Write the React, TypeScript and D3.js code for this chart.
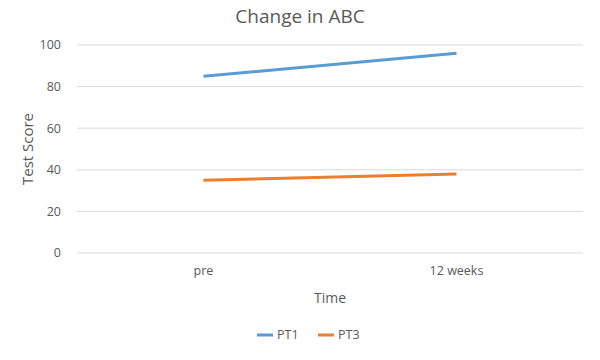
import React from "react";
import * as d3 from "d3";

const categories = ["pre", "12 weeks"];
const pt1 = [85, 96];
const pt3 = [35, 38];
const yTicks = [0, 20, 40, 60, 80, 100];
const seriesNames = ["PT1", "PT3"];
const colors = ["#5B9BD5", "#ED7D31"];

export default function App() {
  const W = 600, H = 360;
  const left = 77, right = 583, top = 45, bottom = 253;
  const x = d3.scaleBand().domain(categories).range([left, right]);
  const y = d3.scaleLinear().domain([0, 100]).range([bottom, top]);
  const line = d3.line<number>()
    .x((_, i) => (x(categories[i]) as number) + x.bandwidth() / 2)
    .y((d) => y(d));
  const series = [pt1, pt3];
  const font = "'Open Sans', 'Noto Sans', sans-serif";
  const txt = "#595959";
  return (
    <svg width={W} height={H} style={{ position: "absolute", left: 0, top: 0, background: "#fff" }} fontFamily={font}>
      <rect x={0} y={0} width={W} height={H} fill="#fff" />
      <text x={300} y={23} textAnchor="middle" fontSize={19} fill={txt}>Change in ABC</text>
      {yTicks.map((t) => (
        <g key={t}>
          <line x1={left} x2={right} y1={y(t)} y2={y(t)} stroke="#d9d9d9" strokeWidth={1} />
          <text x={61} y={y(t)} dy="0.35em" textAnchor="end" fontSize={12.5} fill={txt}>{t}</text>
        </g>
      ))}
      {categories.map((c) => (
        <text key={c} x={(x(c) as number) + x.bandwidth() / 2} y={275} textAnchor="middle" fontSize={12.5} fill={txt}>{c}</text>
      ))}
      <text transform={`translate(33,${(top + bottom) / 2}) rotate(-90)`} textAnchor="middle" fontSize={15} fill={txt}>Test Score</text>
      <text x={330} y={303} textAnchor="middle" fontSize={14} fill={txt}>Time</text>
      {series.map((s, i) => (
        <path key={i} d={line(s) || ""} fill="none" stroke={colors[i]} strokeWidth={3} />
      ))}
      {seriesNames.map((n, i) => (
        <g key={n} transform={`translate(${257 + i * 61},335)`}>
          <line x1={0} x2={16} y1={0} y2={0} stroke={colors[i]} strokeWidth={3} />
          <text x={20} y={0} dy="0.35em" fontSize={12.5} fill={txt}>{n}</text>
        </g>
      ))}
    </svg>
  );
}
